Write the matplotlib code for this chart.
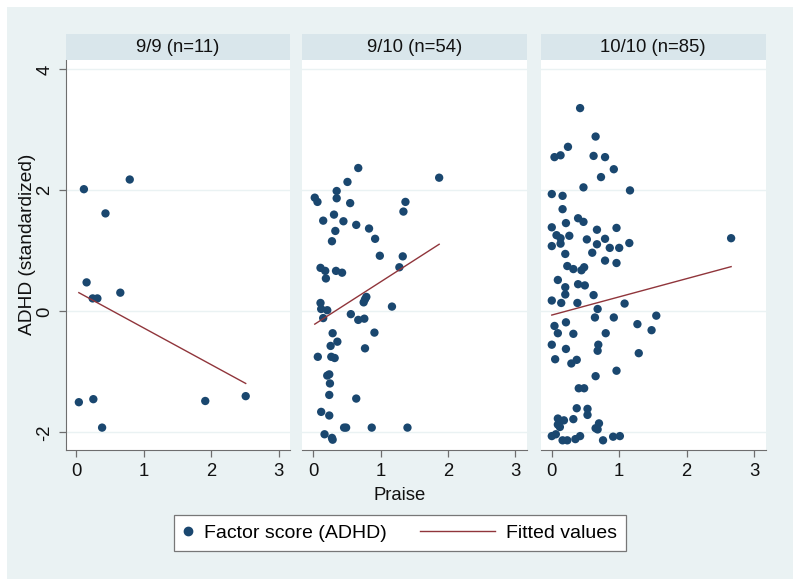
import matplotlib
matplotlib.use('Agg')
import matplotlib.pyplot as plt
from matplotlib.lines import Line2D
from matplotlib.legend_handler import HandlerLine2D
from matplotlib.patches import Rectangle

plt.rcParams['font.family'] = ['Liberation Sans', 'DejaVu Sans']

# panel titles
titles = ['9/9 (n=11)', '9/10 (n=54)', '10/10 (n=85)']

# 9/9 group
praise_99 = [0.11, 0.79, 0.43, 0.15, 0.24, 0.31, 0.65, 0.035, 0.25, 0.38, 1.91, 2.51]
adhd_99 = [2.02, 2.18, 1.62, 0.48, 0.215, 0.215, 0.31, -1.50, -1.45, -1.92, -1.48, -1.40]

# 9/10 group
praise_910 = [0.67, 1.87, 0.51, 0.35, 0.35, 0.025, 0.065, 0.55, 1.37, 1.34, 0.31, 0.15,
              0.45, 0.64, 0.83, 0.33, 0.92, 0.28,
              0.99, 1.33, 1.28, 0.11, 0.18, 0.34, 0.43, 0.19, 0.79, 0.77, 0.75, 0.11,
              0.12, 0.21, 1.17, 0.15, 0.56, 0.67, 0.76, 0.29, 0.91, 0.36, 0.26, 0.77,
              0.07, 0.27, 0.32, 0.21, 0.24, 0.25, 0.24, 0.64, 0.12, 0.24, 0.46, 0.49,
              0.87, 1.40, 0.17, 0.28, 0.29]
adhd_910 = [2.37, 2.21, 2.14, 1.99, 1.87, 1.88, 1.81, 1.79, 1.81, 1.65, 1.60, 1.50,
            1.49, 1.43, 1.37, 1.33, 1.20, 1.16,
            0.92, 0.91, 0.73, 0.72, 0.67, 0.67, 0.64, 0.545, 0.24, 0.20, 0.15, 0.14,
            0.04, 0.02, 0.08, -0.11, -0.045, -0.14, -0.12, -0.36, -0.35, -0.50, -0.57, -0.61,
            -0.75, -0.75, -0.77, -1.06, -1.04, -1.19, -1.38, -1.44, -1.66, -1.72, -1.92, -1.92,
            -1.92, -1.92, -2.03, -2.09, -2.12]

# 10/10 group
praise_1010 = [0.42, 0.65, 0.24, 0.04, 0.13, 0.62, 0.79,
               0.92, 0.73, 0.47, 1.16, 0.0, 0.16, 0.16, 0.39, 0.47, 0.0, 0.21, 0.67, 0.96,
               0.07, 0.13, 0.26, 0.52, 0.79, 0.67, 0.0, 0.13, 0.86, 1.00, 1.15, 0.60, 0.20,
               0.79, 0.96, 0.23, 0.32, 0.44, 0.48, 0.09, 0.20, 0.39, 0.49, 0.20, 0.62,
               0.0, 0.14, 0.38, 1.08, 0.68, 0.64, 0.92, 1.55, 0.04, 0.21, 1.27, 0.09,
               0.32, 0.80, 1.48, 0.0, 0.69, 0.21,
               0.68, 1.29, 0.05, 0.29, 0.37, 0.96, 0.65, 0.40, 0.48, 0.37, 0.53, 0.53,
               0.09, 0.18, 0.32, 0.09, 0.12, 0.70, 0.65, 0.68, 0.0, 0.06, 0.16, 0.23,
               0.35, 0.42, 0.76, 0.91, 1.01, 2.66]
adhd_1010 = [3.36, 2.89, 2.72, 2.55, 2.58, 2.57, 2.55,
             2.35, 2.22, 2.05, 2.00, 1.94, 1.91, 1.69, 1.54, 1.48, 1.39, 1.46, 1.35, 1.38,
             1.26, 1.21, 1.25, 1.19, 1.20, 1.11, 1.08, 1.12, 1.05, 1.05, 1.13, 0.97, 0.95,
             0.84, 0.80, 0.75, 0.70, 0.68, 0.73, 0.52, 0.40, 0.45, 0.43, 0.28, 0.27,
             0.18, 0.14, 0.14, 0.13, 0.04, -0.10, -0.10, -0.07, -0.24, -0.18, -0.21, -0.36,
             -0.37, -0.36, -0.31, -0.55, -0.55, -0.62,
             -0.65, -0.69, -0.79, -0.86, -0.80, -0.98, -1.07, -1.27, -1.27, -1.60, -1.61, -1.71,
             -1.77, -1.80, -1.78, -1.87, -1.91, -1.85, -1.93, -1.95, -2.06, -2.03, -2.13, -2.13,
             -2.11, -2.06, -2.13, -2.07, -2.06, 1.21]

# fitted line values at the smallest and largest praise score of each panel
fit_adhd = [[0.31, -1.19], [-0.21, 1.11], [-0.06, 0.74]]

xticks = [0, 1, 2, 3]
yticks = [-2, 0, 2, 4]

praise = [praise_99, praise_910, praise_1010]
adhd = [adhd_99, adhd_910, adhd_1010]

navy = '#1A476F'
maroon = '#90353B'
bg = '#EAF2F3'
strip = '#D9E6EB'
axcol = '#6E6E6E'
fs = 13.3

W, H = 800.0, 586.0
fig = plt.figure(figsize=(8, 5.86), dpi=100, facecolor='white')
fig.add_artist(Rectangle((7 / W, 7 / H), 786 / W, 572 / H, transform=fig.transFigure,
                         facecolor=bg, edgecolor='none', zorder=-5))

lefts = [65.7, 302.3, 541.0]
for i, left in enumerate(lefts):
    ax = fig.add_axes([left / W, 136 / H, 224.5 / W, 390 / H])
    ax.set_facecolor('white')
    ax.set_xlim(-0.16, 3.17)
    ax.set_ylim(-2.29, 4.155)
    for y in yticks:
        ax.axhline(y, color=bg, lw=1.0, zorder=0)
    ax.scatter(praise[i], adhd[i], s=36, color=navy, edgecolors='none', zorder=3)
    ax.plot([min(praise[i]), max(praise[i])], fit_adhd[i], color=maroon, lw=1.0, zorder=4)

    ax.set_xticks(xticks)
    ax.set_xticklabels([str(t) for t in xticks])
    ax.set_yticks(yticks)
    ax.spines['top'].set_visible(False)
    ax.spines['right'].set_visible(False)
    ax.spines['bottom'].set_color(axcol)
    ax.spines['left'].set_color(axcol)
    ax.tick_params(axis='both', colors=axcol, labelcolor='#111111', labelsize=fs,
                   length=5, width=0.9, pad=4)
    if i == 0:
        ax.set_yticklabels([str(t) for t in yticks], rotation=90, va='center')
    else:
        ax.spines['left'].set_visible(False)
        ax.tick_params(axis='y', left=False, labelleft=False)

    # strip header
    ax.add_patch(Rectangle((0, 1.0), 1, 26 / 390, transform=ax.transAxes, facecolor=strip,
                           edgecolor='none', clip_on=False, zorder=5))
    ax.text(0.5, 1 + 13 / 390, titles[i], transform=ax.transAxes, ha='center',
            va='center', fontsize=fs, color='#111111', zorder=6)

fig.text(27.5 / W, 1 - 244 / H, 'ADHD (standardized)', rotation=90, ha='center',
         va='center', fontsize=fs + 0.5, color='#111111')
fig.text(0.5, 1 - 495 / H, 'Praise', ha='center', va='center', fontsize=fs, color='#111111')


class LongLine(HandlerLine2D):
    # stretch the line sample to the left so it is longer than the marker slot
    def get_xdata(self, legend, xdescent, ydescent, width, height, fontsize):
        xdata, xm = super().get_xdata(legend, xdescent, ydescent, width, height, fontsize)
        return [-xdescent - 3.35 * fontsize, -xdescent + width], xm


h_dot = Line2D([], [], marker='o', ls='none', color=navy, markersize=6)
h_fit = Line2D([], [], color=maroon, lw=1.0)
leg = fig.legend([h_dot, h_fit], ['Factor score (ADHD)', 'Fitted values'],
                 loc='center', bbox_to_anchor=(0.5, 1 - 533 / H), ncol=2,
                 fontsize=14, frameon=True, fancybox=False, edgecolor='#777777',
                 facecolor='white', framealpha=1, handlelength=0.5, handletextpad=0.57,
                 columnspacing=5.1, borderpad=0.45, numpoints=1,
                 handler_map={h_fit: LongLine()})
leg.get_frame().set_linewidth(0.9)

fig.savefig('out.png', dpi=100, facecolor='white')
